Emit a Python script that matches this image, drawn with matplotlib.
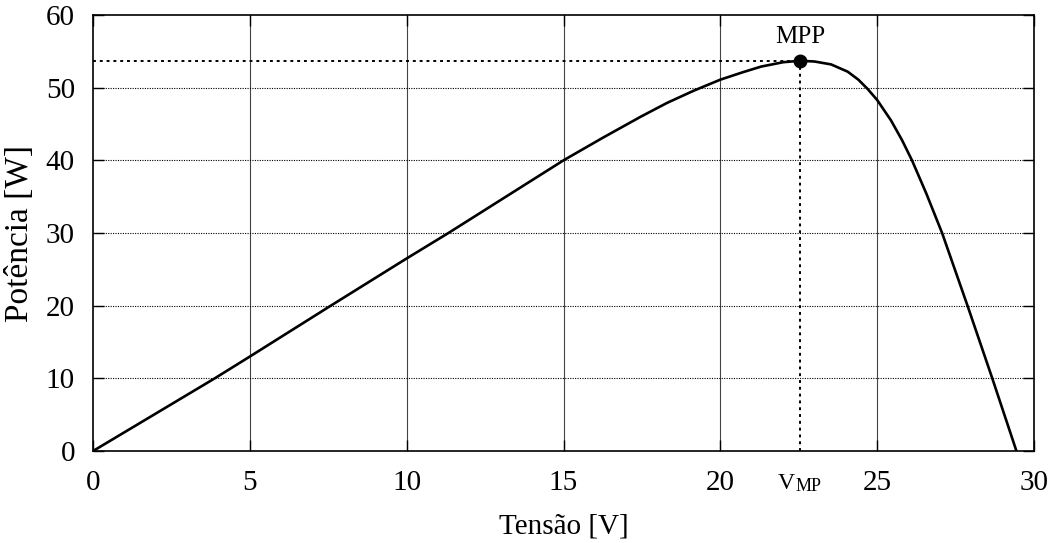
import matplotlib
matplotlib.use("Agg")
import matplotlib.pyplot as plt

plt.rcParams['font.family'] = ['Liberation Serif', 'DejaVu Serif']

# curva P-V
tensao = [0, 3.88, 5, 7.58, 10, 11.33, 15, 16.25, 17.46, 18.3, 19.16, 20,
          20.7, 21.3, 22.0, 22.54, 23.0, 23.53, 24.06, 24.4, 24.7, 25.0,
          25.44, 25.79, 26.11, 26.57, 27.07, 27.88, 28.67, 29.44]
potencia = [0, 10, 13, 20, 26.5, 30, 40, 43.1, 46.0, 47.9, 49.6, 51.1,
            52.1, 52.9, 53.5, 53.7, 53.6, 53.2, 52.2, 51.1, 49.8, 48.3,
            45.5, 42.8, 40.0, 35.4, 30, 20, 10, 0]

v_mp = 22.54
p_mp = 53.7

x_ticks = [0, 5, 10, 15, 20, 25, 30]
y_ticks = [0, 10, 20, 30, 40, 50, 60]

fig = plt.figure(figsize=(10.49, 5.43), dpi=100)
ax = fig.add_axes([0.0887, 0.1694, 0.8970, 0.8030])

ax.set_xlim(0, 30)
ax.set_ylim(0, 60)
ax.set_xticks(x_ticks)
ax.set_yticks(y_ticks)

# grade: verticais continuas, horizontais pontilhadas
for xv in x_ticks[1:-1]:
    ax.axvline(xv, color='#444444', lw=0.8, zorder=1)
for yv in y_ticks[1:-1]:
    ax.axhline(yv, color='black', lw=0.8, ls=(0, (1, 1.2)), zorder=1)

ax.tick_params(direction='in', length=8, width=1, top=True, right=True,
               labelsize=21, pad=14, colors='black')
ax.tick_params(axis='y', pad=13)
for s in ax.spines.values():
    s.set_linewidth(1.2)

ax.plot(tensao, potencia, color='black', lw=1.9, zorder=3,
        solid_joinstyle='round')

# linhas do MPP
ax.plot([0, v_mp], [p_mp, p_mp], color='black', lw=1.4, ls=(0, (1.5, 2)), zorder=2)
ax.plot([v_mp, v_mp], [0, p_mp], color='black', lw=1.4, ls=(0, (1.5, 2)), zorder=2)
ax.plot([v_mp], [p_mp], 'o', color='black', ms=9, zorder=4)

ax.text(v_mp, p_mp + 1.8, 'MPP', ha='center', va='bottom', fontsize=18)
ax.annotate('V', xy=(v_mp, 0), xytext=(-10, -16), textcoords='offset points',
            ha='center', va='top', fontsize=17, annotation_clip=False)
ax.annotate('MP', xy=(v_mp, 0), xytext=(6, -19.5), textcoords='offset points',
            ha='center', va='top', fontsize=13, annotation_clip=False)

ax.set_xlabel('Tensão [V]', fontsize=21, labelpad=12)
ax.set_ylabel('Potência [W]', fontsize=24)
ax.yaxis.set_label_coords(-0.062, 0.5)

fig.savefig('out.png', dpi=100)
